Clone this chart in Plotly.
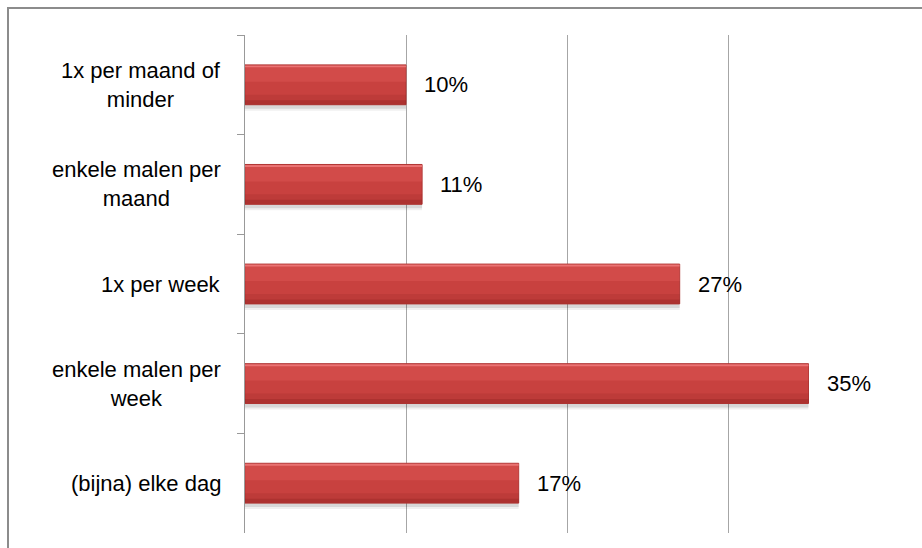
import plotly.graph_objects as go

# Frequency categories (top to bottom) and their shares in percent
categories = [
    "1x per maand of<br>minder",
    "enkele malen per<br>maand",
    "1x per week",
    "enkele malen per<br>week",
    "(bijna) elke dag",
]
values = [10, 11, 27, 35, 17]
x_ticks = [0, 10, 20, 30, 40]

W, H = 922, 548
M_L, M_R, M_T, M_B = 245, 33, 35, 15
FONT = "Arial, 'Liberation Sans', sans-serif"

fig = go.Figure()


def layer(color, width, offset, line=None):
    """Add one overlaid band of the bevelled bars."""
    fig.add_trace(go.Bar(
        y=categories, x=values, orientation="h",
        width=width, offset=offset,
        marker=dict(color=color, line=line or dict(width=0)),
        hoverinfo="skip", showlegend=False,
    ))


# soft drop shadow under each bar
layer("rgba(0,0,0,0.06)", 0.45, -0.19)
layer("rgba(0,0,0,0.10)", 0.43, -0.19)
# main bar body
layer("#C8413F", 0.4, -0.2, dict(color="#B03634", width=1))
# lighter upper half of the gloss
layer("rgba(255,120,120,0.18)", 0.16, -0.19)
# bright rim along the top edge
layer("rgba(255,150,150,0.55)", 0.02, -0.195)
# gradual darkening toward the bottom edge
layer("rgba(100,10,10,0.10)", 0.10, 0.10)
layer("rgba(100,10,10,0.18)", 0.04, 0.155)

annotations = []
# value labels to the right of each bar
for c, v in zip(categories, values):
    annotations.append(dict(
        x=v, y=c, xref="x", yref="y", text=f"{v}%",
        xanchor="left", yanchor="middle", xshift=16, showarrow=False,
        font=dict(family=FONT, size=22, color="#000000"),
    ))
# centred category labels left of the axis
for c in categories:
    annotations.append(dict(
        x=0, y=c, xref="paper", yref="y", text=c,
        xanchor="right", yanchor="middle", xshift=-22, align="center",
        showarrow=False,
        font=dict(family=FONT, size=22, color="#000000"),
    ))

# outer frame (top and left edges visible)
pw = W - M_L - M_R
ph = H - M_T - M_B
fx0 = (8 - M_L) / pw
fy1 = (H - M_B - 8) / ph
fig.add_shape(type="rect", xref="paper", yref="paper",
              x0=fx0, x1=1.2, y0=-0.2, y1=fy1,
              line=dict(color="#8C8C8C", width=2), layer="below")

fig.update_layout(
    width=W, height=H,
    margin=dict(l=M_L, r=M_R, t=M_T, b=M_B),
    paper_bgcolor="white", plot_bgcolor="white",
    barmode="overlay",
    annotations=annotations,
    font=dict(family=FONT),
    xaxis=dict(
        range=[0, 40], tickvals=x_ticks, showticklabels=False,
        showgrid=True, gridcolor="#A6A6A6", gridwidth=1,
        zeroline=False, showline=False, fixedrange=True,
    ),
    yaxis=dict(
        type="category", categoryorder="array", categoryarray=categories,
        autorange="reversed", showticklabels=False,
        ticks="outside", tickson="boundaries", ticklen=7,
        tickcolor="#999999", tickwidth=1,
        showline=True, linecolor="#999999", linewidth=1,
        showgrid=False, zeroline=False, fixedrange=True,
    ),
)

fig.write_html("out.html")
